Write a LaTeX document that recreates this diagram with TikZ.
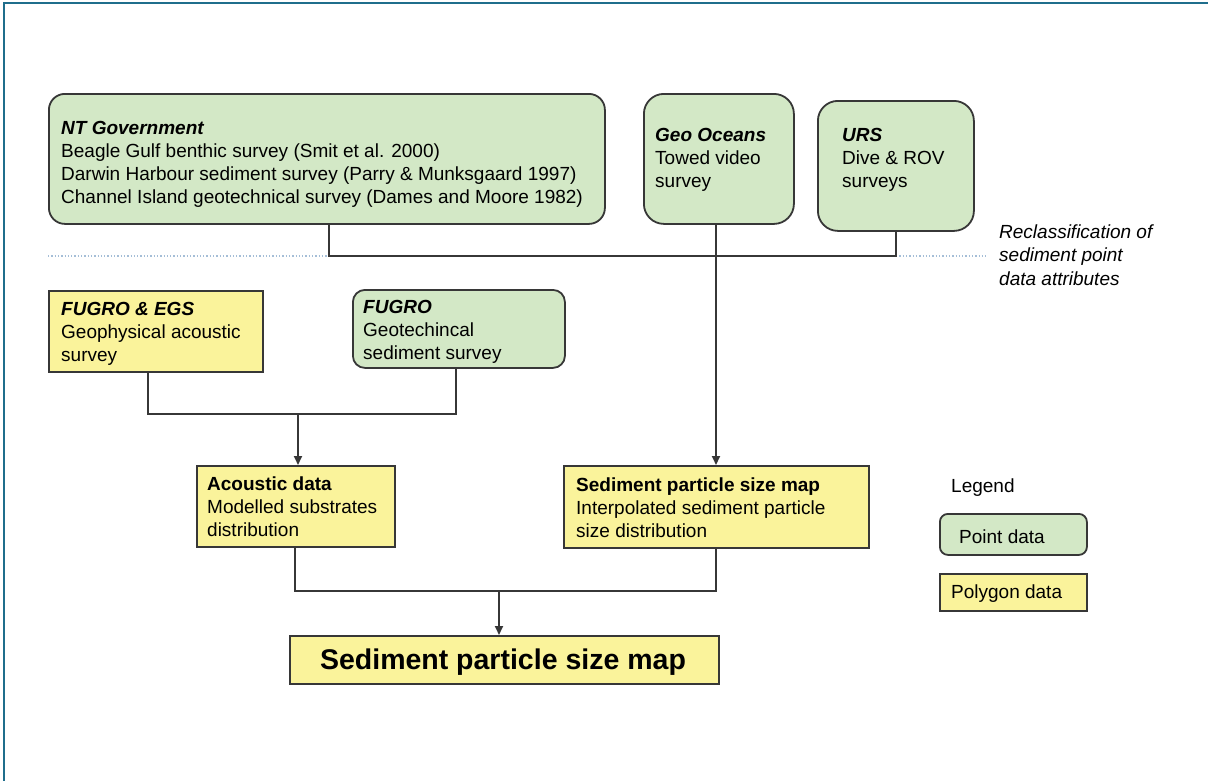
\documentclass[tikz,border=0pt]{standalone}
\usepackage{fontspec}
\setmainfont{Liberation Sans}
\usetikzlibrary{arrows.meta}
\definecolor{ptgreen}{RGB}{211,232,198}
\definecolor{polyyellow}{RGB}{250,243,155}
\definecolor{bordercol}{RGB}{55,55,55}
\definecolor{framecol}{RGB}{31,110,140}
\definecolor{dotcol}{RGB}{165,190,215}
\newcommand{\fl}{\rule{0pt}{15pt}}
\begin{document}
\begin{tikzpicture}[x=1pt,y=-1pt,
  box/.style={draw=bordercol, line width=1.8pt, inner sep=0pt, anchor=north west},
  gbox/.style={box, fill=ptgreen},
  ybox/.style={box, fill=polyyellow},
  txt/.style={inner sep=0pt, anchor=north west, align=left, font=\fontsize{19}{23}\selectfont},
  conn/.style={draw=bordercol, line width=1.8pt},
  arr/.style={conn, -{Triangle[length=9pt,width=8pt]}},
]
\useasboundingbox (0,0) rectangle (1208,780);
\fill[white] (0,0) rectangle (1208,780);
\draw[framecol, line width=2.5pt] (4,781) -- (4,3) -- (1209,3);

% dotted reclassification line
\coordinate (dl) at (48,256);
\coordinate (dr) at (986,256);
\draw[dotcol, line width=1.3pt, dotted] (dl) -- (dr);

% top boxes
\node[gbox, rounded corners=16pt, minimum width=556pt, minimum height=130pt] (nt) at (48,93) {};
\node[txt] (ntt) at (61,119) {\fl\textbf{\textit{NT Government}}\\Beagle Gulf benthic survey (Smit et al. 2000)\\Darwin Harbour sediment survey (Parry \& Munksgaard 1997)\\Channel Island geotechnical survey (Dames and Moore 1982)};
\node[gbox, rounded corners=20pt, minimum width=150pt, minimum height=130pt] (geo) at (643,93) {};
\node[txt] (geot) at (655,126.5) {\fl\textbf{\textit{Geo Oceans}}\\Towed video\\survey};
\node[gbox, rounded corners=20pt, minimum width=156pt, minimum height=130pt] (urs) at (817,100) {};
\node[txt] (urst) at (842,126) {\fl\textbf{\textit{URS}}\\Dive \& ROV\\surveys};
\node[txt, font=\fontsize{19}{23.5}\selectfont\itshape] (recl) at (999,223) {\fl Reclassification of\\sediment point\\data attributes};

% second row
\node[ybox, minimum width=214pt, minimum height=81pt] (fe) at (48,290) {};
\node[txt] (fet) at (61,300.5) {\fl\textbf{\textit{FUGRO \& EGS}}\\Geophysical acoustic\\survey};
\node[gbox, rounded corners=12pt, minimum width=212pt, minimum height=78pt] (fg) at (352,289) {};
\node[txt] (fgt) at (363,298.5) {\fl\textbf{\textit{FUGRO}}\\Geotechincal\\sediment survey};

% third row
\node[ybox, minimum width=198pt, minimum height=81pt] (ac) at (196,465) {};
\node[txt] (act) at (207,475.5) {\fl\textbf{Acoustic data}\\Modelled substrates\\distribution};
\node[ybox, minimum width=305pt, minimum height=82pt] (sed) at (563,465) {};
\node[txt] (sedt) at (576,476) {\fl\textbf{Sediment particle size map}\\Interpolated sediment particle\\size distribution};

% final
\node[ybox, minimum width=429pt, minimum height=48pt] (fin) at (289,635) {};
\node[inner sep=0pt, anchor=base, font=\fontsize{28.5}{30}\selectfont\bfseries] (fint) at (503,669) {Sediment particle size map};

% legend
\node[inner sep=0pt, anchor=base west, font=\fontsize{19}{23}\selectfont] (leg) at (951,492) {Legend};
\node[gbox, rounded corners=8pt, minimum width=147pt, minimum height=41pt] (pt) at (939,513) {};
\node[inner sep=0pt, anchor=base west, font=\fontsize{19}{23}\selectfont] (ptt) at (959,543.5) {Point data};
\node[ybox, minimum width=147pt, minimum height=37pt] (pg) at (939,573) {};
\node[inner sep=0pt, anchor=base west, font=\fontsize{19}{23}\selectfont] (pgt) at (951,598.5) {Polygon data};

% connectors
\coordinate (j1) at (329,256);
\draw[conn] (nt.south -| j1) -- (j1) -| (urs.south);
\coordinate (gx) at (716,300);
\draw[arr] (geo.south -| gx) -- (sed.north -| gx);

\coordinate (j2) at (298,414);
\coordinate (feo) at (148,371);
\coordinate (fgo) at (456,367);
\draw[conn] (fe.south -| feo) |- (j2) -| (fg.south -| fgo);
\draw[arr] (j2) -- (ac.north -| j2);

\coordinate (j3) at (499,591);
\coordinate (acx) at (295,550);
\draw[conn] (ac.south -| acx) |- (j3) -| (sed.south -| gx);
\draw[arr] (j3) -- (fin.north -| j3);
\end{tikzpicture}
\end{document}
